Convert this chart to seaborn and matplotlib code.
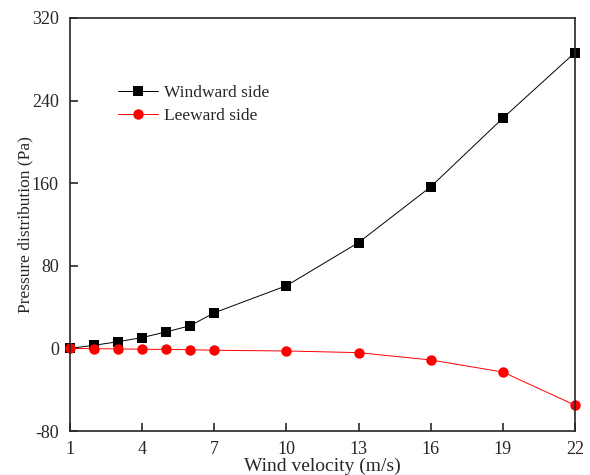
import matplotlib
matplotlib.use("Agg")
import matplotlib.pyplot as plt
import seaborn as sns
import pandas as pd

# Wind velocity (m/s) and surface pressures (Pa)
wind_velocity = [1, 2, 3, 4, 5, 6, 7, 10, 13, 16, 19, 22]
windward = [0.0, 3.0, 6.5, 10.5, 16.0, 22.0, 34.5, 60.7, 102.5, 156.5, 223.0, 286.5]
leeward = [0.0, -0.3, -0.5, -0.8, -1.0, -1.3, -1.8, -2.5, -4.1, -11.2, -22.9, -55.0]

x_ticks = [1, 4, 7, 10, 13, 16, 19, 22]
y_ticks = [-80, 0, 80, 160, 240, 320]

df = pd.DataFrame({
    "Wind velocity (m/s)": wind_velocity * 2,
    "Pressure": windward + leeward,
    "Side": ["Windward side"] * len(windward) + ["Leeward side"] * len(leeward),
})

sns.set_style("ticks")
plt.rcParams["font.family"] = ["Liberation Serif", "DejaVu Serif"]
plt.rcParams["axes.unicode_minus"] = False
plt.rcParams["xtick.direction"] = "in"
plt.rcParams["ytick.direction"] = "in"

fig = plt.figure(figsize=(5.9, 4.75), dpi=100)
ax = fig.add_axes([70 / 590, 1 - 431 / 475, 505 / 590, 413 / 475])

sns.lineplot(
    data=df, x="Wind velocity (m/s)", y="Pressure", hue="Side", style="Side",
    palette={"Windward side": "black", "Leeward side": "red"},
    markers={"Windward side": "s", "Leeward side": "o"},
    dashes=False, linewidth=0.7, markersize=6.5, markeredgewidth=0,
    ax=ax, clip_on=False,
)

ax.set_xlim(1, 22)
ax.set_ylim(-80, 320)
ax.set_xticks(x_ticks)
ax.set_yticks(y_ticks)
ax.tick_params(axis="both", labelsize=13, length=6, width=1.2,
               top=False, right=False)
ax.tick_params(axis="x", pad=7)
ax.tick_params(axis="y", pad=8)
for s in ax.spines.values():
    s.set_linewidth(1.2)

ax.set_xlabel("Wind velocity (m/s)", fontsize=14, labelpad=0)
ax.set_ylabel("Pressure distribution (Pa)", fontsize=12.5, labelpad=-1)

leg = ax.legend(loc="upper left", bbox_to_anchor=(0.065, 0.875), frameon=False,
                fontsize=12.5, handlelength=2.3, handletextpad=0.3, labelspacing=0.35)

# circles read a little larger than the squares
for line in list(ax.lines) + list(leg.get_lines()):
    if line.get_marker() == "o":
        line.set_markersize(7.5)
for line in leg.get_lines():
    line.set_linewidth(0.7)

fig.savefig("out.png", dpi=100)
